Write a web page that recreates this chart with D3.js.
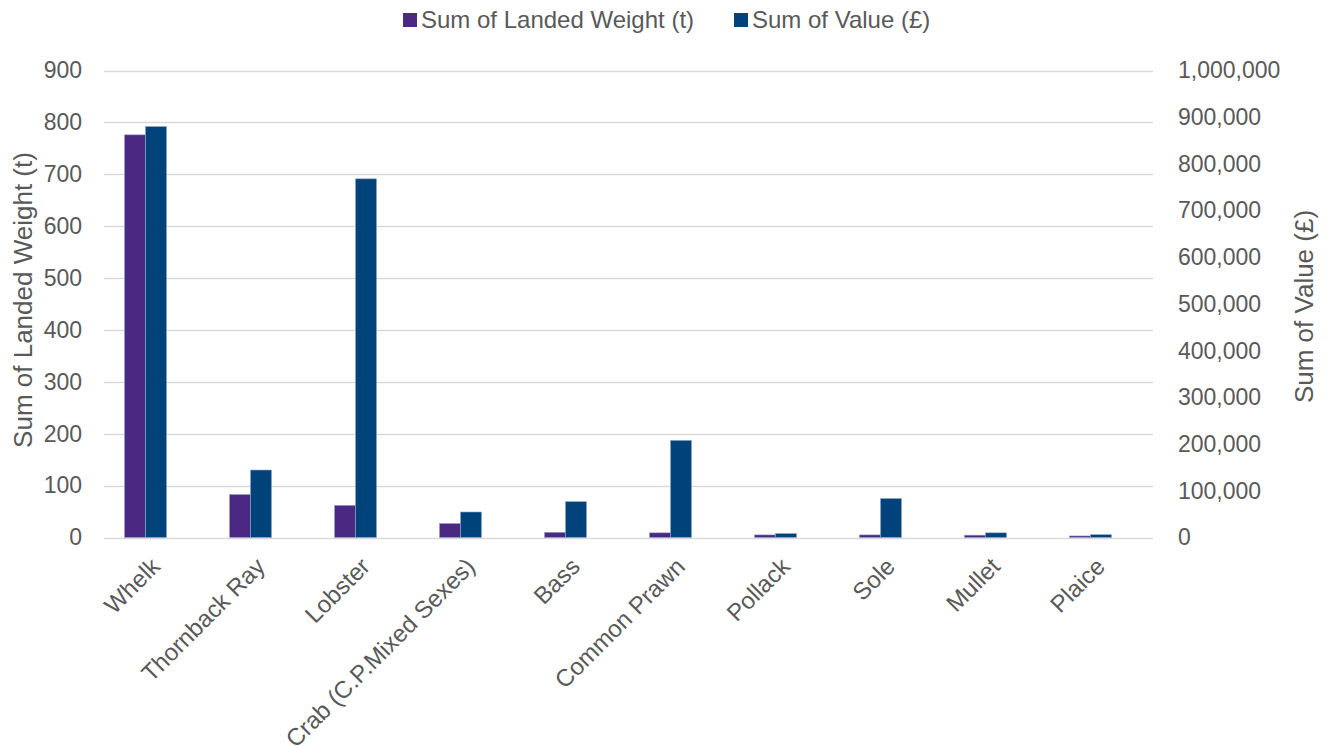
<!DOCTYPE html>
<html>
<head>
<meta charset="utf-8">
<script src="https://cdn.jsdelivr.net/npm/d3@7"></script>
<style>
  body { margin: 0; background: #fff; }
  text { font-family: "Liberation Sans", Arial, sans-serif; fill: #595959; }
</style>
</head>
<body>
<div id="chart-area"></div>
<script>
// data
var species = ["Whelk", "Thornback Ray", "Lobster", "Crab (C.P.Mixed Sexes)", "Bass",
  "Common Prawn", "Pollack", "Sole", "Mullet", "Plaice"];
var landedWeight = [776, 83, 62, 27, 10, 9, 5, 5, 4.5, 3];
var landedValue = [880000, 144500, 768000, 54600, 76700, 208000, 8500, 83500, 10000, 6000];
var weightTicks = [0, 100, 200, 300, 400, 500, 600, 700, 800, 900];
var valueTicks = [0, 100000, 200000, 300000, 400000, 500000, 600000, 700000, 800000, 900000, 1000000];
var seriesNames = ["Sum of Landed Weight (t)", "Sum of Value (£)"];
var seriesColors = ["#4b2882", "#00427a"];

var W = 1331, H = 746;
var plotLeft = 104, plotRight = 1153, plotTop = 70.5, plotBottom = 537.5;

var svg = d3.select("#chart-area").append("svg")
  .attr("width", W)
  .attr("height", H);

// scales
var x0 = d3.scaleBand()
  .domain(species)
  .range([93, 1143])
  .paddingInner(0.6)
  .paddingOuter(0.3);

var x1 = d3.scaleBand()
  .domain([0, 1])
  .range([0, x0.bandwidth()]);

var yLeft = d3.scaleLinear().domain([0, 900]).range([plotBottom, plotTop]);
var yRight = d3.scaleLinear().domain([0, 1000000]).range([plotBottom, plotTop]);

// gridlines
svg.append("g").selectAll("line")
  .data(weightTicks)
  .enter().append("line")
    .attr("x1", plotLeft)
    .attr("x2", plotRight)
    .attr("y1", function(d) { return Math.round(yLeft(d)) + 0.5; })
    .attr("y2", function(d) { return Math.round(yLeft(d)) + 0.5; })
    .attr("stroke", "#d9d9d9")
    .attr("stroke-width", 1.5);

// left axis
var leftAxis = svg.append("g")
  .attr("transform", "translate(" + 90 + ",0)")
  .call(d3.axisLeft(yLeft).tickValues(weightTicks).tickSize(0).tickPadding(8));
leftAxis.select(".domain").remove();
leftAxis.selectAll("text")
  .attr("font-size", "23px")
  .attr("font-family", "Liberation Sans, Arial, sans-serif")
  .attr("fill", "#595959");

// right axis
var rightAxis = svg.append("g")
  .attr("transform", "translate(" + 1170 + ",0)")
  .call(d3.axisRight(yRight).tickValues(valueTicks).tickSize(0).tickPadding(8)
    .tickFormat(d3.format(",")));
rightAxis.select(".domain").remove();
rightAxis.selectAll("text")
  .attr("font-size", "23px")
  .attr("font-family", "Liberation Sans, Arial, sans-serif")
  .attr("fill", "#595959");

// bars
var rows = species.map(function(s, i) {
  return { name: s, vals: [landedWeight[i], landedValue[i]] };
});

var groups = svg.append("g").selectAll("g")
  .data(rows)
  .enter().append("g")
    .attr("transform", function(d) { return "translate(" + x0(d.name) + ",0)"; });

groups.selectAll("rect")
  .data(function(d) { return d.vals.map(function(v, k) { return { k: k, v: v }; }); })
  .enter().append("rect")
    .attr("x", function(d) { return x1(d.k); })
    .attr("width", x1.bandwidth())
    .attr("y", function(d) { return d.k === 0 ? yLeft(d.v) : yRight(d.v); })
    .attr("height", function(d) { return plotBottom - (d.k === 0 ? yLeft(d.v) : yRight(d.v)); })
    .attr("fill", function(d) { return seriesColors[d.k]; })
    .attr("stroke", "#8fa7c9")
    .attr("stroke-width", 0.6);

// category labels
svg.append("g").selectAll("text")
  .data(species)
  .enter().append("text")
    .attr("transform", function(d) {
      return "translate(" + (x0(d) + x0.bandwidth() / 2 + 16) + "," + 568 + ") rotate(-45)";
    })
    .attr("text-anchor", "end")
    .attr("font-size", "24px")
    .text(function(d) { return d; });

// axis titles
svg.append("text")
  .attr("transform", "translate(32,300) rotate(-90)")
  .attr("text-anchor", "middle")
  .attr("font-size", "26px")
  .text(seriesNames[0]);

svg.append("text")
  .attr("transform", "translate(1313,306.5) rotate(-90)")
  .attr("text-anchor", "middle")
  .attr("font-size", "26px")
  .text(seriesNames[1]);

// legend
var legendX = [403, 734];
var legend = svg.append("g").selectAll("g")
  .data(seriesNames)
  .enter().append("g")
    .attr("transform", function(d, i) { return "translate(" + legendX[i] + ",0)"; });

legend.append("rect")
  .attr("x", 0)
  .attr("y", 13)
  .attr("width", 14)
  .attr("height", 14)
  .attr("fill", function(d, i) { return seriesColors[i]; });

legend.append("text")
  .attr("x", 18)
  .attr("y", 28)
  .attr("font-size", "24px")
  .text(function(d) { return d; });
</script>
</body>
</html>
